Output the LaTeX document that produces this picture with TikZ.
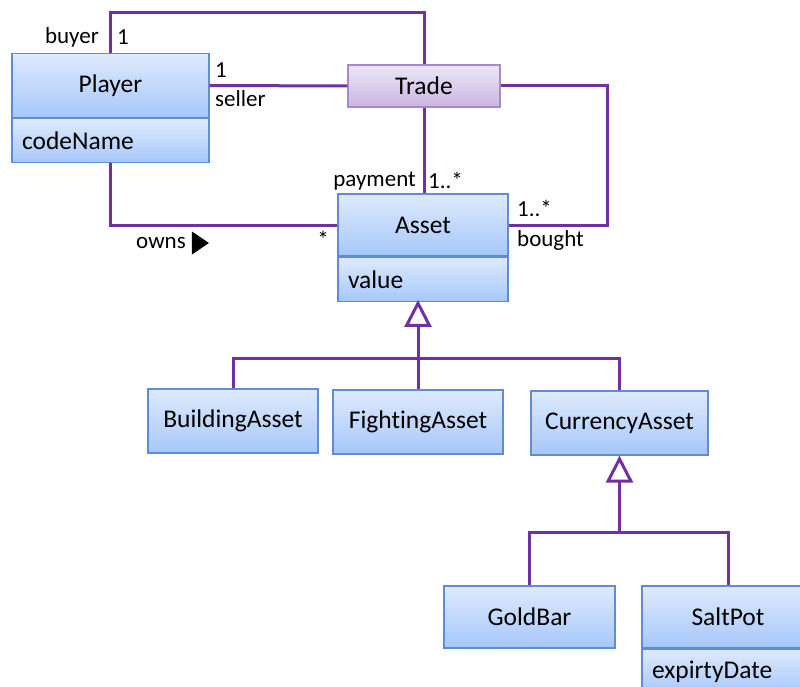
\documentclass[tikz,border=0pt]{standalone}
\usepackage{fontspec}
\setmainfont{Carlito}[Ligatures=NoCommon]
\usetikzlibrary{arrows.meta}
\definecolor{bluetop}{RGB}{222,234,252}
\definecolor{bluebot}{RGB}{166,199,250}
\definecolor{blueedge}{RGB}{95,140,210}
\definecolor{purtop}{RGB}{238,230,246}
\definecolor{purbot}{RGB}{200,182,226}
\definecolor{puredge}{RGB}{165,140,200}
\definecolor{conn}{RGB}{112,48,160}
\tikzset{
  cls/.style={draw=blueedge, line width=1.3pt, top color=bluetop, bottom color=bluebot,
    minimum width=170pt, minimum height=64pt, inner sep=0pt, font=\fontsize{25.5}{30}\selectfont},
  attr/.style={cls, minimum height=44pt, text width=150pt, align=left},
  trade/.style={draw=puredge, line width=1.3pt, top color=purtop, bottom color=purbot,
    minimum width=152pt, minimum height=42pt, inner sep=0pt, font=\fontsize{25.5}{30}\selectfont},
  assoc/.style={draw=conn, line width=3pt},
  gen/.style={draw=conn, line width=3pt, -{Triangle[open, length=27pt, width=27pt, line width=3pt, fill=white]}},
  lbl/.style={font=\fontsize{23}{26}\selectfont, inner sep=0pt},
}
\begin{document}
\begin{tikzpicture}[x=1pt, y=-1pt]
\useasboundingbox (0,0) rectangle (800,687);
% classes
\node[cls, minimum width=197pt] (Player) at (110.5,85.5) {Player};
\node[attr, minimum width=197pt, text width=177pt, anchor=north] (PlayerA) at (Player.south) {codeName};
\node[trade] (Trade) at (424,86) {Trade};
\node[cls, minimum height=62pt] (Asset) at (423,225) {Asset};
\node[attr, anchor=north] (AssetA) at (Asset.south) {value};
\node[cls] (Building) at (233,421) {BuildingAsset};
\node[cls] (Fighting) at (418,422) {FightingAsset};
\node[cls, minimum width=177pt] (Currency) at (619.5,423) {CurrencyAsset};
\node[cls, minimum width=171pt, minimum height=62pt] (Gold) at (529.5,617) {GoldBar};
\node[cls, minimum width=172pt, minimum height=62pt] (Salt) at (728,617) {SaltPot};
\node[attr, minimum width=172pt, text width=152pt, anchor=north] (SaltA) at (Salt.south) {expirtyDate};
% associations
\coordinate (topline) at (0,13);
\draw[assoc] (Player.north) |- (topline -| Trade.north) -- (Trade.north);
\draw[assoc] (Player.east) -- (Trade.west);
\draw[assoc] (Trade.south) -- (Trade.south |- Asset.north);
\coordinate (rightcol) at (607,0);
\draw[assoc] (Trade.east) -| (rightcol |- Asset.east) -- (Asset.east);
\draw[assoc] (PlayerA.south) |- (Asset.west);
% generalization Asset
\coordinate (tipA) at (Fighting.north |- AssetA.south);
\coordinate (busA) at (418,358);
\draw[gen] (busA) -- ([yshift=2pt]tipA);
\draw[assoc] (Building.north) |- (busA) -| (Currency.north);
\draw[assoc] (Fighting.north) -- (busA);
% generalization Currency
\coordinate (busC) at (Currency.south |- 0,532);
\draw[gen] (busC) -- (Currency.south);
\draw[assoc] (Gold.north) |- (busC) -| (Salt.north);
% labels
\node[lbl, anchor=east] (lbuyer) at (99,37) {buyer};
\node[lbl, anchor=west] (lbuy1) at (117,37) {1};
\node[lbl, anchor=west] (lsel1) at (215,70) {1};
\node[lbl, anchor=west] (lseller) at (215,99) {seller};
\node[lbl, anchor=east] (lpay) at (416,181) {payment};
\node[lbl, anchor=west] (lpaym) at (428,180) {1..*};
\node[lbl, anchor=west] (lbm) at (517,208) {1..*};
\node[lbl, anchor=west] (lbought) at (517,240) {bought};
\node[lbl] (lstar) at (323,239) {*};
\node[lbl, anchor=west] (lowns) at (136,243) {owns};
\fill ([xshift=6pt]lowns.east) ++(0,-11.5) -- ++(17,11.5) -- ++(-17,11.5) -- cycle;
\end{tikzpicture}
\end{document}
